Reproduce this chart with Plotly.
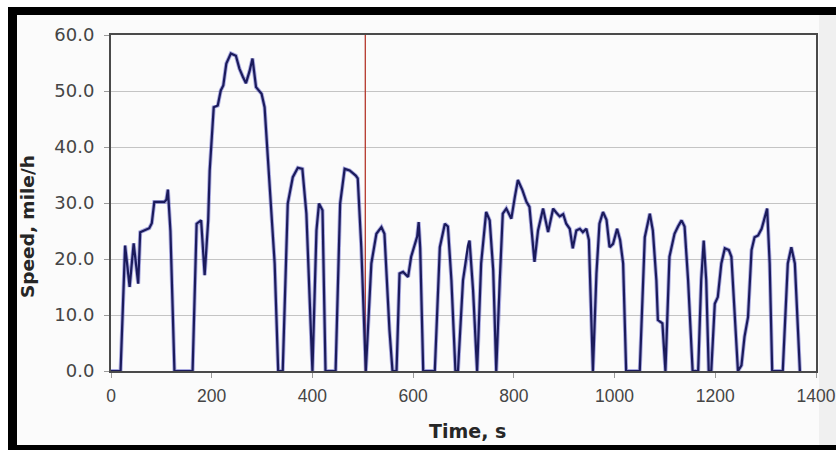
import plotly.graph_objects as go

time_s = [0, 19, 28, 37, 45, 54, 58, 66, 76, 81, 86, 96, 106, 110, 113, 118, 126,
          162, 170, 179, 183, 186, 193, 196, 204, 212, 218, 223, 229, 238, 248, 255,
          262, 268, 275, 281, 288, 299, 305, 312, 318, 325, 332, 341, 351, 361, 371,
          380, 388, 400, 408, 413, 420, 426, 446, 455, 464, 474, 486, 490, 497, 506,
          517, 527, 537, 543, 553, 559, 567, 573, 580, 590, 596, 603, 608, 611, 614,
          620, 643, 653, 663, 669, 676, 684, 689, 699, 709, 712, 719, 727, 735, 745,
          752, 759, 765, 772, 778, 785, 795, 802, 808, 817, 825, 831, 841, 848, 858,
          868, 878, 884, 891, 898, 904, 911, 917, 924, 931, 937, 944, 949, 954, 957,
          964, 970, 977, 984, 990, 997, 1005, 1011, 1017, 1023, 1050, 1060, 1070,
          1076, 1083, 1086, 1095, 1101, 1109, 1119, 1126, 1133, 1139, 1146, 1155,
          1166, 1172, 1177, 1182, 1187, 1192, 1199, 1205, 1212, 1219, 1227, 1232,
          1239, 1245, 1252, 1258, 1265, 1272, 1278, 1285, 1292, 1298, 1303, 1308,
          1313, 1334, 1344, 1351, 1358, 1368, 1370]

speed_mph = [0, 0, 22.4, 15.0, 22.8, 15.6, 24.8, 25.1, 25.5, 26.4, 30.2, 30.2, 30.2, 30.6, 32.4, 25.0, 0,
             0, 26.3, 26.9, 21.6, 17.1, 26.9, 35.8, 47.1, 47.4, 50.1, 51.0, 54.9, 56.7, 56.3, 54.0,
             52.5, 51.4, 53.5, 55.8, 50.7, 49.5, 47.1, 37.0, 29.9, 19.2, 0, 0, 29.9, 34.6, 36.3,
             36.1, 28.1, 0, 25.1, 29.9, 28.7, 0, 0, 29.9, 36.1, 35.8, 34.9, 34.4, 22.1, 0,
             19.2, 24.5, 25.7, 24.5, 7.3, 0, 0, 17.4, 17.7, 16.8, 20.4, 22.4, 24.0, 26.6, 22.0,
             0, 0, 22.1, 26.3, 25.8, 16.2, 0, 0, 16.2, 22.4, 23.3, 14.4, 0, 19.2, 28.4,
             26.9, 18.0, 0, 16.2, 28.1, 29.0, 27.2, 31.1, 34.1, 32.3, 30.2, 29.3, 19.5, 25.1, 29.0,
             24.8, 29.0, 28.3, 27.6, 28.0, 26.3, 25.4, 21.9, 25.1, 25.4, 24.8, 25.4, 23.4, 7.3, 0,
             17.4, 26.3, 28.4, 27.0, 22.1, 22.7, 25.4, 23.4, 19.2, 0, 0, 23.9, 28.1,
             25.1, 16.2, 9.1, 8.5, 0, 20.4, 24.5, 25.8, 26.9, 25.8, 16.2, 0,
             0, 16.2, 23.3, 16.2, 0, 0, 12.0, 13.2, 19.2, 21.9, 21.6, 20.4,
             10.2, 0, 1.0, 6.1, 9.6, 21.6, 23.9, 24.2, 25.4, 27.2, 29.0, 19.2,
             0, 0, 19.2, 22.1, 19.2, 0, 0]

marker_time = [505, 505]
marker_speed = [0, 60]

x_ticks = [0, 200, 400, 600, 800, 1000, 1200, 1400]
y_ticks = [0, 10, 20, 30, 40, 50, 60]
y_tick_text = ["0.0", "10.0", "20.0", "30.0", "40.0", "50.0", "60.0"]

fig = go.Figure()
fig.add_trace(go.Scatter(x=marker_time, y=marker_speed, mode="lines",
                         line=dict(color="#b5382c", width=1.3), hoverinfo="skip",
                         showlegend=False))
# soft blue halo under the navy line
fig.add_trace(go.Scatter(x=time_s, y=speed_mph, mode="lines",
                         line=dict(color="rgba(70,70,190,0.45)", width=4),
                         hoverinfo="skip", showlegend=False))
fig.add_trace(go.Scatter(x=time_s, y=speed_mph, mode="lines",
                         line=dict(color="#1b1b5c", width=2.2), showlegend=False))

L, R, T, B = 111, 20, 35, 79
W, H = 836, 450
pw, ph = W - L - R, H - T - B


def px(xp):
    return (xp - L) / pw


def py(yp):
    return (H - B - yp) / ph


shapes = [
    dict(type="rect", xref="paper", yref="paper", x0=px(17), x1=px(836), y0=py(445), y1=py(15),
         fillcolor="#fbfbfb", line=dict(width=0), layer="below"),
    dict(type="rect", xref="paper", yref="paper", x0=px(819), x1=px(836), y0=py(445), y1=py(15),
         fillcolor="#f0f0f0", line=dict(width=0), layer="below"),
    dict(type="rect", xref="paper", yref="paper", x0=px(8), x1=px(836), y0=py(15), y1=py(7),
         fillcolor="black", line=dict(width=0)),
    dict(type="rect", xref="paper", yref="paper", x0=px(8), x1=px(17), y0=py(450), y1=py(7),
         fillcolor="black", line=dict(width=0)),
    dict(type="rect", xref="paper", yref="paper", x0=px(8), x1=px(836), y0=py(450), y1=py(445),
         fillcolor="black", line=dict(width=0)),
]

annotations = [
    dict(text="<b>Speed, mile/h</b>", xref="paper", yref="paper", x=px(27), y=py(227),
         xanchor="center", yanchor="middle", textangle=-90, showarrow=False,
         font=dict(family="DejaVu Sans", size=18.5, color="#262626")),
    dict(text="<b>Time, s</b>", xref="paper", yref="paper", x=px(468), y=py(431),
         xanchor="center", yanchor="middle", showarrow=False,
         font=dict(family="DejaVu Sans", size=19, color="#262626")),
]

fig.update_layout(
    width=W, height=H,
    margin=dict(l=L, r=R, t=T, b=B, autoexpand=False),
    paper_bgcolor="white",
    plot_bgcolor="white",
    shapes=shapes,
    annotations=annotations,
    font=dict(family="DejaVu Sans", size=17, color="#3c3c3c"),
)
fig.update_xaxes(range=[0, 1400], tickvals=x_ticks, showgrid=False, zeroline=False,
                 showline=True, linecolor="#4a4a4a", linewidth=2, mirror=True,
                 ticks="outside", ticklen=5, tickcolor="#9a9a9a", tickwidth=1,
                 ticklabeloverflow="allow", automargin=False, ticklabelstandoff=3,
                 tickfont=dict(family="Liberation Sans", size=17.5, color="#454545"))
fig.update_yaxes(range=[0, 60], tickvals=y_ticks, ticktext=y_tick_text, showgrid=True,
                 gridcolor="#c4c4c4", gridwidth=1, zeroline=False,
                 showline=True, linecolor="#4a4a4a", linewidth=2, mirror=True,
                 ticks="outside", ticklen=5, tickcolor="#9a9a9a", tickwidth=1,
                 ticklabelstandoff=6, automargin=False,
                 tickfont=dict(family="DejaVu Sans", size=18, color="#454545"))

fig.write_html("out.html", config={"displayModeBar": False},
               post_script="document.body.style.margin='0px';")
